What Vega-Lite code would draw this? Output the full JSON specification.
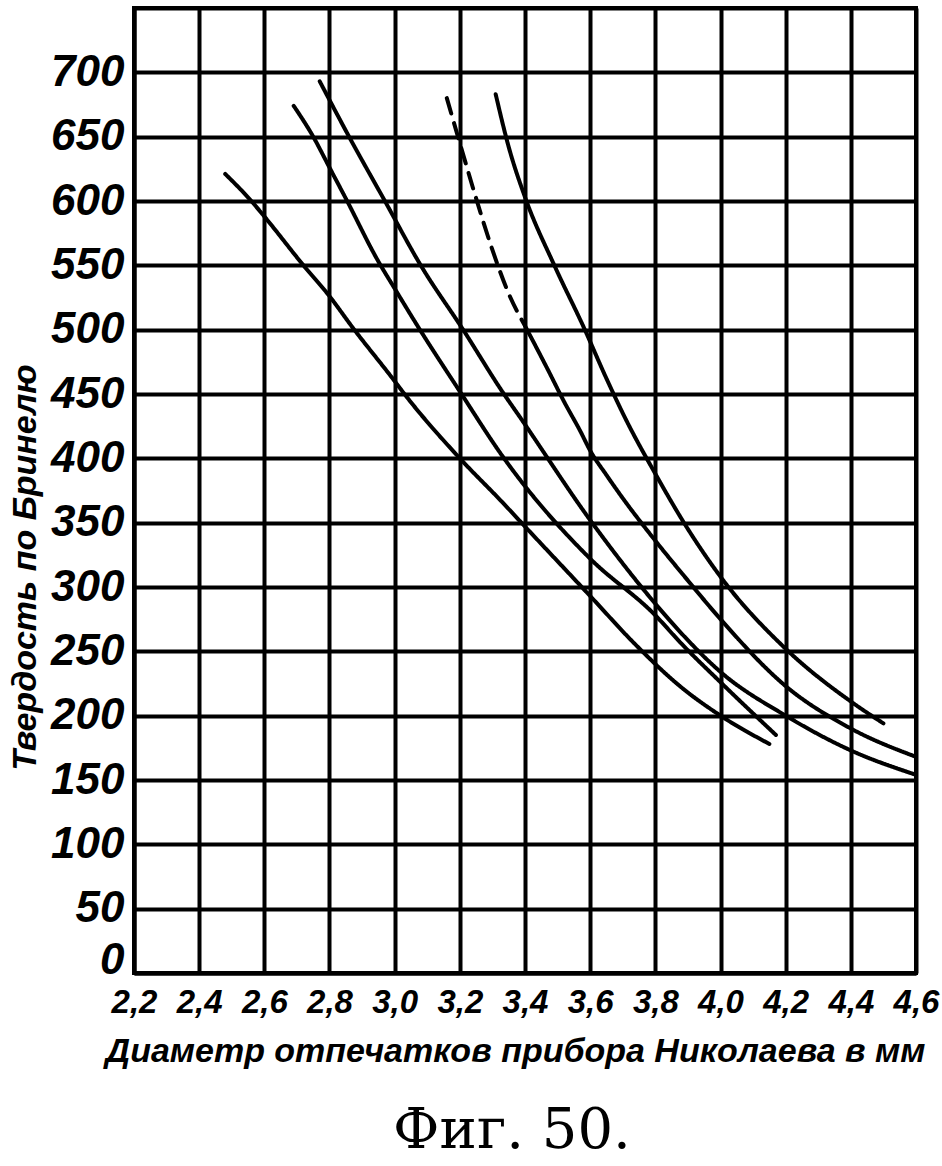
{
  "$schema": "https://vega.github.io/schema/vega-lite/v6.json",
  "width": 782,
  "height": 965,
  "autosize": "none",
  "padding": {"left": 134, "top": 8, "right": 26, "bottom": 193},
  "background": "white",
  "title": {
    "text": "Фиг. 50.",
    "orient": "bottom",
    "anchor": "middle",
    "frame": "group",
    "font": "DejaVu Serif",
    "fontSize": 56,
    "fontWeight": "normal",
    "color": "black",
    "offset": 36,
    "dx": -13
  },
  "config": {
    "view": {"stroke": "black", "strokeWidth": 4}
  },
  "data": {
    "values": [
      {"line": "A", "style": "solid", "d": 2.48, "hb": 621},
      {"line": "A", "style": "solid", "d": 2.56, "hb": 600},
      {"line": "A", "style": "solid", "d": 2.6, "hb": 588},
      {"line": "A", "style": "solid", "d": 2.72, "hb": 550},
      {"line": "A", "style": "solid", "d": 2.8, "hb": 526},
      {"line": "A", "style": "solid", "d": 2.87, "hb": 502},
      {"line": "A", "style": "solid", "d": 3.0, "hb": 460},
      {"line": "A", "style": "solid", "d": 3.03, "hb": 450},
      {"line": "A", "style": "solid", "d": 3.2, "hb": 400},
      {"line": "A", "style": "solid", "d": 3.33, "hb": 366},
      {"line": "A", "style": "solid", "d": 3.4, "hb": 347},
      {"line": "A", "style": "solid", "d": 3.6, "hb": 293},
      {"line": "A", "style": "solid", "d": 3.74, "hb": 255},
      {"line": "A", "style": "solid", "d": 3.88, "hb": 222},
      {"line": "A", "style": "solid", "d": 4.0, "hb": 200},
      {"line": "A", "style": "solid", "d": 4.15, "hb": 178},

      {"line": "B", "style": "solid", "d": 2.69, "hb": 674},
      {"line": "B", "style": "solid", "d": 2.75, "hb": 650},
      {"line": "B", "style": "solid", "d": 2.8, "hb": 626},
      {"line": "B", "style": "solid", "d": 2.85, "hb": 602},
      {"line": "B", "style": "solid", "d": 2.95, "hb": 553},
      {"line": "B", "style": "solid", "d": 3.0, "hb": 532},
      {"line": "B", "style": "solid", "d": 3.07, "hb": 503},
      {"line": "B", "style": "solid", "d": 3.2, "hb": 452},
      {"line": "B", "style": "solid", "d": 3.33, "hb": 402},
      {"line": "B", "style": "solid", "d": 3.6, "hb": 322},
      {"line": "B", "style": "solid", "d": 3.8, "hb": 278},
      {"line": "B", "style": "solid", "d": 3.88, "hb": 256},
      {"line": "B", "style": "solid", "d": 4.0, "hb": 226},
      {"line": "B", "style": "solid", "d": 4.17, "hb": 185},

      {"line": "C", "style": "solid", "d": 2.77, "hb": 693},
      {"line": "C", "style": "solid", "d": 2.86, "hb": 650},
      {"line": "C", "style": "solid", "d": 2.97, "hb": 600},
      {"line": "C", "style": "solid", "d": 3.08, "hb": 550},
      {"line": "C", "style": "solid", "d": 3.21, "hb": 500},
      {"line": "C", "style": "solid", "d": 3.33, "hb": 452},
      {"line": "C", "style": "solid", "d": 3.39, "hb": 430},
      {"line": "C", "style": "solid", "d": 3.6, "hb": 352},
      {"line": "C", "style": "solid", "d": 3.8, "hb": 287},
      {"line": "C", "style": "solid", "d": 3.88, "hb": 264},
      {"line": "C", "style": "solid", "d": 4.0, "hb": 234},
      {"line": "C", "style": "solid", "d": 4.2, "hb": 200},
      {"line": "C", "style": "solid", "d": 4.4, "hb": 173},
      {"line": "C", "style": "solid", "d": 4.6, "hb": 154},

      {"line": "D", "style": "solid", "d": 3.31, "hb": 683},
      {"line": "D", "style": "solid", "d": 3.35, "hb": 642},
      {"line": "D", "style": "solid", "d": 3.4, "hb": 603},
      {"line": "D", "style": "solid", "d": 3.49, "hb": 550},
      {"line": "D", "style": "solid", "d": 3.58, "hb": 502},
      {"line": "D", "style": "solid", "d": 3.65, "hb": 462},
      {"line": "D", "style": "solid", "d": 3.71, "hb": 430},
      {"line": "D", "style": "solid", "d": 3.8, "hb": 388},
      {"line": "D", "style": "solid", "d": 3.9, "hb": 345},
      {"line": "D", "style": "solid", "d": 4.0, "hb": 308},
      {"line": "D", "style": "solid", "d": 4.2, "hb": 252},
      {"line": "D", "style": "solid", "d": 4.4, "hb": 211},
      {"line": "D", "style": "solid", "d": 4.5, "hb": 194},

      {"line": "E1", "style": "dash", "d": 3.16, "hb": 680},
      {"line": "E1", "style": "dash", "d": 3.2, "hb": 645},
      {"line": "E1", "style": "dash", "d": 3.25, "hb": 602},
      {"line": "E1", "style": "dash", "d": 3.3, "hb": 562},
      {"line": "E1", "style": "dash", "d": 3.35, "hb": 528},
      {"line": "E1", "style": "dash", "d": 3.4, "hb": 503},

      {"line": "E2", "style": "solid", "d": 3.4, "hb": 503},
      {"line": "E2", "style": "solid", "d": 3.47, "hb": 469},
      {"line": "E2", "style": "solid", "d": 3.52, "hb": 444},
      {"line": "E2", "style": "solid", "d": 3.57, "hb": 421},
      {"line": "E2", "style": "solid", "d": 3.6, "hb": 406},
      {"line": "E2", "style": "solid", "d": 3.65, "hb": 387},
      {"line": "E2", "style": "solid", "d": 3.7, "hb": 369},
      {"line": "E2", "style": "solid", "d": 3.8, "hb": 336},
      {"line": "E2", "style": "solid", "d": 3.9, "hb": 305},
      {"line": "E2", "style": "solid", "d": 4.0, "hb": 275},
      {"line": "E2", "style": "solid", "d": 4.2, "hb": 223},
      {"line": "E2", "style": "solid", "d": 4.4, "hb": 190},
      {"line": "E2", "style": "solid", "d": 4.6, "hb": 168}
    ]
  },
  "mark": {"type": "line", "interpolate": "monotone", "color": "black", "strokeWidth": 4, "strokeCap": "round"},
  "encoding": {
    "x": {
      "field": "d",
      "type": "quantitative",
      "scale": {"domain": [2.2, 4.6], "nice": false, "zero": false},
      "axis": {
        "values": [2.2, 2.4, 2.6, 2.8, 3.0, 3.2, 3.4, 3.6, 3.8, 4.0, 4.2, 4.4, 4.6],
        "labelExpr": "replace(format(datum.value, '.1f'), '.', ',')",
        "grid": true,
        "gridColor": "black",
        "gridWidth": 4,
        "gridOpacity": 1,
        "ticks": false,
        "domainColor": "black",
        "domainWidth": 4,
        "labelFont": "Liberation Sans",
        "labelFontSize": 33,
        "labelFontWeight": "bold",
        "labelFontStyle": "italic",
        "labelColor": "black",
        "labelPadding": 13,
        "labelFlush": false,
        "labelOverlap": false,
        "labelBound": false,
        "title": "Диаметр отпечатков прибора Николаева в мм",
        "titleFont": "Liberation Sans",
        "titleFontSize": 34,
        "titleFontWeight": "bold",
        "titleFontStyle": "italic",
        "titleColor": "black",
        "titleX": 381,
        "titleY": 78,
        "titleAlign": "center",
        "titleBaseline": "middle"
      }
    },
    "y": {
      "field": "hb",
      "type": "quantitative",
      "scale": {"domain": [0, 750], "nice": false, "zero": true},
      "axis": {
        "values": [0, 50, 100, 150, 200, 250, 300, 350, 400, 450, 500, 550, 600, 650, 700, 750],
        "labelExpr": "datum.value == 750 ? '' : datum.label",
        "grid": true,
        "gridColor": "black",
        "gridWidth": 4,
        "gridOpacity": 1,
        "ticks": false,
        "domainColor": "black",
        "domainWidth": 4,
        "labelFont": "Liberation Sans",
        "labelFontSize": 44,
        "labelFontWeight": "bold",
        "labelFontStyle": "italic",
        "labelColor": "black",
        "labelPadding": 10,
        "labelBaseline": {"condition": {"test": "datum.value == 0", "value": "alphabetic"}, "value": "middle"},
        "labelOverlap": false,
        "labelBound": false,
        "labelFlush": false,
        "title": "Твердость по Бринелю",
        "titleFont": "Liberation Sans",
        "titleFontSize": 34,
        "titleFontWeight": "bold",
        "titleFontStyle": "italic",
        "titleColor": "black",
        "titleX": -109,
        "titleY": 559,
        "titleAngle": -90,
        "titleAlign": "center",
        "titleBaseline": "middle"
      }
    },
    "detail": {"field": "line"},
    "strokeDash": {
      "field": "style",
      "type": "nominal",
      "scale": {"domain": ["solid", "dash"], "range": [[1, 0], [16, 10]]},
      "legend": null
    }
  }
}
